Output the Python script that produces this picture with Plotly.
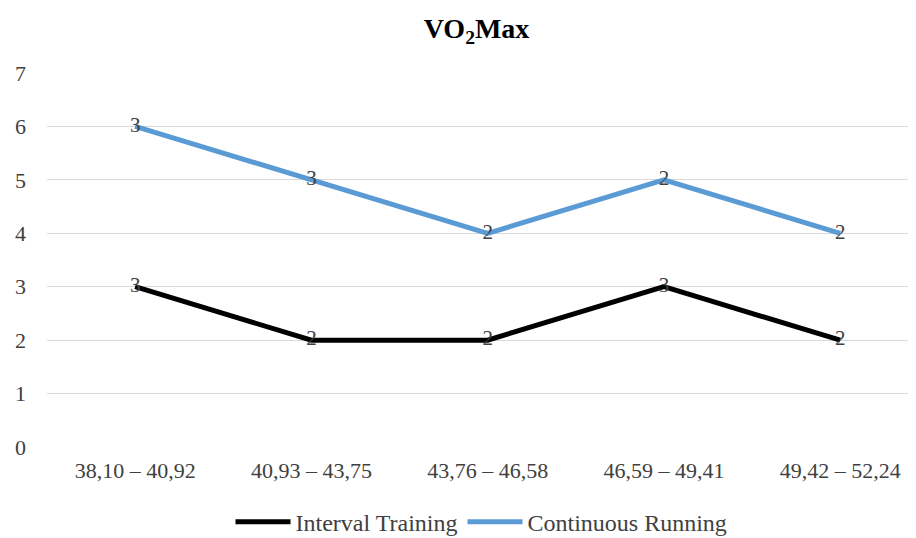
import plotly.graph_objects as go

categories = ["38,10 – 40,92", "40,93 – 43,75", "43,76 – 46,58", "46,59 – 49,41", "49,42 – 52,24"]
interval_training = [3, 2, 2, 3, 2]
continuous_running = [3, 3, 2, 2, 2]
y_ticks = [0, 1, 2, 3, 4, 5, 6, 7]

stacked_cr = [a + b for a, b in zip(interval_training, continuous_running)]

FONT = "Liberation Serif"

fig = go.Figure()
fig.add_trace(go.Scatter(
    x=categories, y=interval_training, name="Interval Training",
    mode="lines+text", text=[str(v) for v in interval_training],
    textposition="middle center",
    textfont=dict(family=FONT, size=21, color="#404040"),
    line=dict(color="#000000", width=5),
))
fig.add_trace(go.Scatter(
    x=categories, y=stacked_cr, name="Continuous Running",
    mode="lines+text", text=[str(v) for v in continuous_running],
    textposition="middle center",
    textfont=dict(family=FONT, size=21, color="#404040"),
    line=dict(color="#5B9BD5", width=5),
))

fig.update_layout(
    width=908, height=530,
    margin=dict(l=39, r=0, t=65, b=91, autoexpand=False),
    paper_bgcolor="white", plot_bgcolor="white",
    font=dict(family=FONT, size=21, color="#404040"),
    title=dict(text="<b>VO<sub>2</sub>Max</b>", x=0.516, xanchor="center",
               y=0.962, yanchor="middle",
               font=dict(family=FONT, size=28, color="#000000")),
    showlegend=True,
    legend=dict(orientation="h", x=0.5, xanchor="center", y=-0.201, yanchor="middle",
                font=dict(family=FONT, size=24, color="#404040"),
                itemwidth=55, traceorder="normal"),
)
fig.update_xaxes(
    type="category", range=[-0.5, 4.43], showgrid=False, showline=False,
    zeroline=False, ticks="", tickfont=dict(family=FONT, size=22, color="#404040"),
    ticklabelstandoff=8,
)
fig.update_yaxes(
    range=[0, 7], tickvals=y_ticks, showgrid=True, gridcolor="#D9D9D9", gridwidth=1,
    zeroline=False, showline=False, ticks="",
    tickfont=dict(family=FONT, size=22, color="#404040"), ticklabelstandoff=20,
)

fig.write_html("out.html")
